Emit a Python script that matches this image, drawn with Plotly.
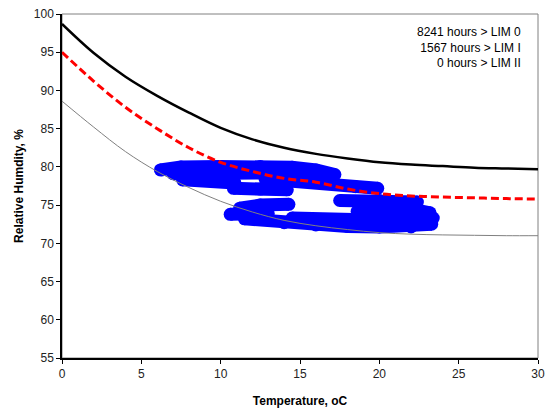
import plotly.graph_objects as go

# Limit curves
temp_grid = [0, 2, 4, 6, 8, 10, 12, 14, 16, 18, 20, 22, 24, 26, 28, 30]
lim_0 = [88.6, 85.2, 82.0, 79.4, 77.3, 75.5, 74.1, 73.0, 72.3, 71.8, 71.4, 71.2, 71.1, 71.05, 71.0, 71.0]
lim_1 = [95.0, 91.2, 87.8, 85.0, 82.5, 80.6, 79.4, 78.5, 78.0, 77.1, 76.5, 76.2, 76.05, 75.95, 75.85, 75.8]
lim_2 = [98.7, 94.9, 91.8, 89.3, 87.1, 85.1, 83.6, 82.5, 81.7, 81.1, 80.6, 80.3, 80.1, 79.9, 79.8, 79.7]

# Measured climate (temperature, RH) traces, separated by gaps
meas_temp = [6.2, 7.5, 10.0, 12.5, 14.5, 16.0, 17.2, None,
             7.0, 10.0, 13.0, 16.0, None,
             7.6, 9.5, 10.9, None,
             10.8, 12.5, 14.2, None,
             12.8, 14.5, 16.5, 18.5, 19.9, None,
             10.6, 13.0, None,
             11.2, 12.5, 14.3, None,
             17.5, 20.0, 22.4, None,
             11.5, 14.0, 16.0, 18.0, 20.0, 22.0, 23.3, None,
             14.5, 17.0, 19.0, 21.0, 23.4, None,
             18.6, 20.0, 22.0, 23.2]
meas_rh = [79.6, 80.0, 80.05, 80.05, 79.95, 79.6, 79.0, None,
           79.1, 79.2, 79.2, 78.9, None,
           78.3, 78.2, 77.9, None,
           77.2, 77.1, 77.0, None,
           78.4, 78.2, 77.9, 77.4, 77.2, None,
           73.8, 73.9, None,
           74.6, 75.0, 75.1, None,
           75.6, 75.6, 75.4, None,
           73.2, 72.7, 72.4, 72.2, 72.15, 72.15, 72.5, None,
           73.3, 73.0, 73.1, 73.2, 73.3, None,
           74.2, 74.5, 74.5, 74.0]

x_ticks = [0, 5, 10, 15, 20, 25, 30]
y_ticks = [55, 60, 65, 70, 75, 80, 85, 90, 95, 100]
notes = ["8241 hours > LIM 0", "1567 hours > LIM I", "0 hours > LIM II"]

FONT = "Liberation Sans, Arial, sans-serif"

fig = go.Figure()
fig.add_trace(go.Scatter(x=meas_temp, y=meas_rh, mode="lines+markers",
                         line=dict(color="#0000ff", width=13),
                         marker=dict(color="#0000ff", size=13),
                         connectgaps=False, hoverinfo="skip"))
fig.add_trace(go.Scatter(x=temp_grid, y=lim_0, mode="lines",
                         line=dict(color="#808080", width=1, shape="spline")))
fig.add_trace(go.Scatter(x=temp_grid, y=lim_1, mode="lines",
                         line=dict(color="#ff0000", width=3, shape="spline", dash="8px,4px")))
fig.add_trace(go.Scatter(x=temp_grid, y=lim_2, mode="lines",
                         line=dict(color="#000000", width=2.5, shape="spline")))

fig.add_annotation(xref="paper", yref="paper", x=0.968, y=0.975, xanchor="right", yanchor="top",
                   text="<br>".join(notes), align="right", showarrow=False,
                   font=dict(family=FONT, size=12, color="#000000"))

fig.add_shape(type="rect", xref="paper", yref="paper", x0=0, y0=0, x1=1, y1=1,
              line=dict(color="#808080", width=1), layer="below")

fig.update_layout(
    width=545, height=408,
    margin=dict(l=62, r=7, t=14, b=50),
    paper_bgcolor="white", plot_bgcolor="white",
    showlegend=False,
    font=dict(family=FONT, size=12, color="#000000"),
    xaxis=dict(range=[0, 30], tickvals=x_ticks, ticks="outside", ticklen=4, tickcolor="black",
               showline=True, linecolor="black", linewidth=1.5, showgrid=False, zeroline=False,
               automargin=False,
               tickfont=dict(family=FONT, size=12, color="#222222"),
               title=dict(text="<b>Temperature, oC</b>", font=dict(family=FONT, size=12), standoff=16)),
    yaxis=dict(range=[55, 100], tickvals=y_ticks, ticks="outside", ticklen=4, tickcolor="black",
               showline=True, linecolor="black", linewidth=1.5, showgrid=False, zeroline=False,
               automargin=False,
               tickfont=dict(family=FONT, size=12, color="#222222"),
               title=dict(text="<b>Relative Humdity, %</b>", font=dict(family=FONT, size=12), standoff=8)),
)

fig.write_html("out.html", config={"displayModeBar": False},
               post_script="document.body.style.margin='0';document.body.style.padding='0';")
